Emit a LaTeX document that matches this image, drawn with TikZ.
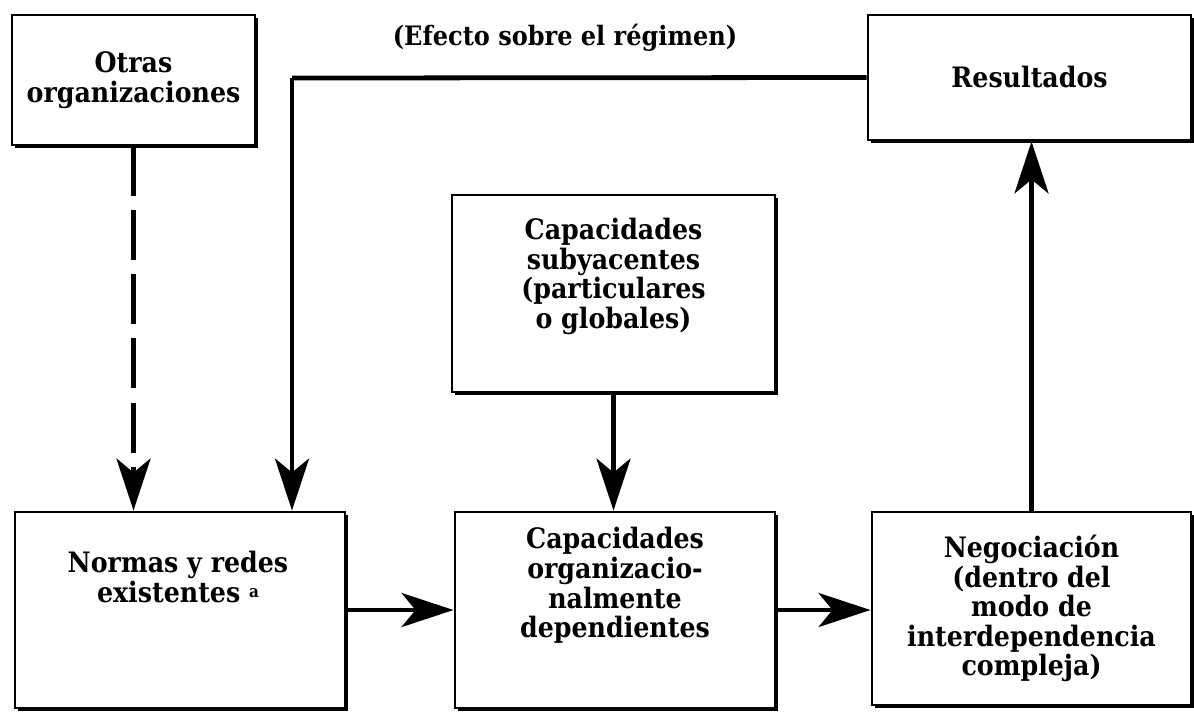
\documentclass[tikz,border=0pt]{standalone}
\usepackage{fontspec}
\setmainfont{DejaVu Serif Condensed}
\usetikzlibrary{positioning,shadows,arrows.meta}

\tikzset{
  caja/.style={draw, line width=2pt, fill=white, align=center, inner sep=0pt,
    font=\fontsize{20}{21}\selectfont\bfseries,
    drop shadow={shadow xshift=0.08cm, shadow yshift=-0.08cm, opacity=1, fill=black}},
  flecha/.style={line width=3.4pt, -{Stealth[length=13mm, width=8.5mm, inset=3.5mm]}},
}

\begin{document}
\begin{tikzpicture}[x=0.025cm, y=-0.025cm, font=\fontsize{19}{20.5}\selectfont\bfseries]
  \useasboundingbox (0,0) rectangle (1194,712);

  \node[caja, minimum width=6.075cm, minimum height=3.25cm] (otras) at (133.5,80) {Otras\\organizaciones};
  \node[caja, minimum width=8.075cm, minimum height=3.125cm] (result) at (1029.5,77.5) {Resultados};
  \node[caja, minimum width=8.075cm, minimum height=4.925cm] (capsub) at (613.5,293.5) {Capacidades\\subyacentes\\(particulares\\o globales)\\[0.4em]};
  \node[caja, minimum width=8.25cm, minimum height=4.9cm] (normas) at (180,610) {};
  \node[caja, minimum width=8cm, minimum height=4.9cm] (caporg) at (615,610) {Capacidades\\organizacio-\\nalmente\\dependientes\\[0.9em]};
  \node[caja, minimum width=7.975cm, minimum height=4.825cm] (negoc) at (1031.5,608.5) {Negociación\\(dentro del\\modo de\\interdependencia\\compleja)};

  \node[align=center, font=\fontsize{20}{21}\selectfont\bfseries] (normastxt) at (178,577) {Normas y redes\\existentes \raisebox{0.35ex}{\fontsize{12}{12}\selectfont a}};
  \node (efecto) at (565,38) {(Efecto sobre el régimen)};

  % efecto de retorno
  \coordinate (esq) at (292,78);
  \draw[line width=3.4pt] (result.west) -- (esq);
  \draw[flecha] (esq) -- (esq |- normas.north);

  \draw[flecha, dash pattern=on 1.25cm off 0.35cm] (otras.south) -- (otras.south |- normas.north);
  \draw[flecha] (capsub.south) -- (capsub.south |- caporg.north);
  \draw[flecha] (normas.east) -- (caporg.west);
  \draw[flecha] (caporg.east) -- (caporg.east -| negoc.west);
  \draw[flecha] (negoc.north) -- (negoc.north |- result.south);
\end{tikzpicture}
\end{document}
